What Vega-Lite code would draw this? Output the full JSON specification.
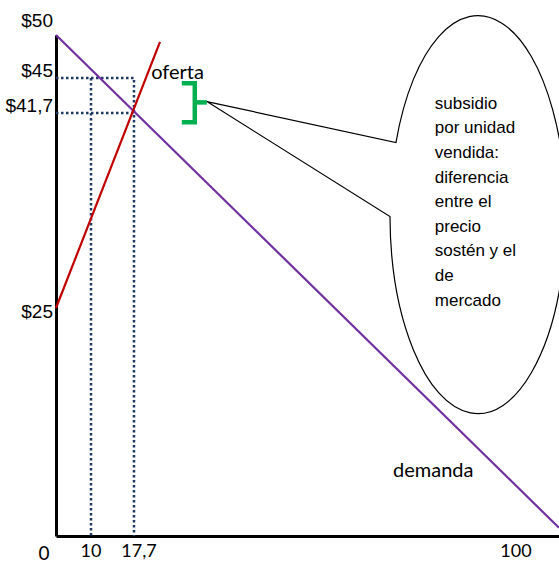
{
  "$schema": "https://vega.github.io/schema/vega-lite/v6.json",
  "width": 503,
  "height": 501,
  "autosize": {"type": "none"},
  "padding": {"left": 56, "top": 35, "right": 0, "bottom": 28},
  "background": "white",
  "config": {"view": {"stroke": null}},
  "datasets": {
    "demand": [{"q": 0, "p": 50}, {"q": 109, "p": 0.9}],
    "supply": [{"q": 0, "p": 25}, {"q": 23.3, "p": 49.2}],
    "guides": [
      {"seg": "a", "ord": 1, "q": 0, "p": 45},
      {"seg": "a", "ord": 2, "q": 17.7, "p": 45},
      {"seg": "a", "ord": 3, "q": 17.7, "p": 0},
      {"seg": "b", "ord": 1, "q": 10, "p": 45},
      {"seg": "b", "ord": 2, "q": 10, "p": 0},
      {"seg": "c", "ord": 1, "q": 0, "p": 41.7},
      {"seg": "c", "ord": 2, "q": 17.7, "p": 41.7}
    ],
    "bracket": [
      {"seg": "a", "ord": 1, "q": 28.0, "p": 44.5},
      {"seg": "a", "ord": 2, "q": 30.8, "p": 44.5},
      {"seg": "a", "ord": 3, "q": 30.8, "p": 40.9},
      {"seg": "a", "ord": 4, "q": 28.0, "p": 40.9},
      {"seg": "b", "ord": 1, "q": 30.8, "p": 42.7},
      {"seg": "b", "ord": 2, "q": 33.4, "p": 42.7}
    ],
    "bubble": [{"q": 91.8, "p": 33.0}],
    "bubbletext": [{"q": 82.5, "p": 42.1, "text": "subsidio\npor unidad\nvendida:\ndiferencia\nentre el\nprecio\nsostén  y el\nde\nmercado"}],
    "ylabels": [
      {"q": 0, "p": 50, "label": "$50", "grp": "top"},
      {"q": 0, "p": 45, "label": "$45", "grp": "mid"},
      {"q": 0, "p": 41.7, "label": "$41,7", "grp": "mid"},
      {"q": 0, "p": 25, "label": "$25", "grp": "low"}
    ],
    "xlabels": [
      {"q": 0, "p": 0, "label": "0", "grp": "zero"},
      {"q": 10, "p": 0, "label": "10", "grp": "std"},
      {"q": 17.7, "p": 0, "label": "17,7", "grp": "shift"},
      {"q": 100, "p": 0, "label": "100", "grp": "std"}
    ],
    "curvelabels": [
      {"q": 21.4, "p": 45, "label": "oferta"},
      {"q": 73.5, "p": 6.6, "label": "demanda"}
    ]
  },
  "encoding": {
    "x": {
      "field": "q", "type": "quantitative",
      "scale": {"domain": [0, 10, 17.7, 100, 109], "range": [0, 35, 78, 460, 503], "nice": false, "zero": false},
      "axis": {"domain": true, "domainColor": "black", "domainWidth": 3, "ticks": false, "labels": false, "grid": false, "title": null}
    },
    "y": {
      "field": "p", "type": "quantitative",
      "scale": {"domain": [0, 25, 41.7, 45, 50], "range": [501, 273, 78, 43, 0], "nice": false, "zero": false},
      "axis": {"domain": true, "domainColor": "black", "domainWidth": 3, "ticks": false, "labels": false, "grid": false, "title": null}
    }
  },
  "layer": [
    {
      "data": {"name": "guides"},
      "mark": {"type": "line", "color": "#1F3864", "strokeWidth": 2.5, "strokeDash": [2.5, 2.5]},
      "encoding": {"detail": {"field": "seg"}, "order": {"field": "ord"}}
    },
    {
      "data": {"name": "demand"},
      "mark": {"type": "line", "color": "#7030A0", "strokeWidth": 2.2},
      "encoding": {}
    },
    {
      "data": {"name": "supply"},
      "mark": {"type": "line", "color": "#C00000", "strokeWidth": 2.2},
      "encoding": {}
    },
    {
      "data": {"name": "bracket"},
      "mark": {"type": "line", "color": "#00B050", "strokeWidth": 4.5, "strokeJoin": "miter"},
      "encoding": {"detail": {"field": "seg"}, "order": {"field": "ord"}}
    },
    {
      "data": {"name": "bubble"},
      "mark": {
        "type": "point",
        "shape": "M -0.412 -0.362 A 0.442 1 0 1 1 -0.442 0.01 L -1.362 -0.568 Z",
        "size": 158404,
        "filled": false,
        "stroke": "black",
        "strokeWidth": 1.2,
        "opacity": 1
      }
    },
    {
      "data": {"name": "bubbletext"},
      "mark": {"type": "text", "align": "left", "baseline": "alphabetic", "font": "Liberation Sans", "fontSize": 17, "lineBreak": "\n", "lineHeight": 24.6, "color": "black"},
      "encoding": {"text": {"field": "text"}}
    },
    {
      "data": {"name": "ylabels"},
      "transform": [{"filter": "datum.grp === 'top'"}],
      "mark": {"type": "text", "align": "right", "baseline": "alphabetic", "dx": -3, "dy": -8, "font": "Liberation Sans", "fontSize": 19, "color": "black"},
      "encoding": {"text": {"field": "label"}}
    },
    {
      "data": {"name": "ylabels"},
      "transform": [{"filter": "datum.grp === 'mid'"}],
      "mark": {"type": "text", "align": "right", "baseline": "alphabetic", "dx": -3, "dy": -1, "font": "Liberation Sans", "fontSize": 19, "color": "black"},
      "encoding": {"text": {"field": "label"}}
    },
    {
      "data": {"name": "ylabels"},
      "transform": [{"filter": "datum.grp === 'low'"}],
      "mark": {"type": "text", "align": "right", "baseline": "alphabetic", "dx": -3, "dy": 10, "font": "Liberation Sans", "fontSize": 19, "color": "black"},
      "encoding": {"text": {"field": "label"}}
    },
    {
      "data": {"name": "xlabels"},
      "transform": [{"filter": "datum.grp === 'std'"}],
      "mark": {"type": "text", "align": "center", "baseline": "alphabetic", "dy": 21, "font": "Lato", "fontSize": 18, "color": "black"},
      "encoding": {"text": {"field": "label"}}
    },
    {
      "data": {"name": "xlabels"},
      "transform": [{"filter": "datum.grp === 'shift'"}],
      "mark": {"type": "text", "align": "center", "baseline": "alphabetic", "dx": 5, "dy": 21, "font": "Lato", "fontSize": 18, "color": "black"},
      "encoding": {"text": {"field": "label"}}
    },
    {
      "data": {"name": "xlabels"},
      "transform": [{"filter": "datum.grp === 'zero'"}],
      "mark": {"type": "text", "align": "center", "baseline": "alphabetic", "dx": -12, "dy": 24, "font": "Lato", "fontSize": 19, "color": "black"},
      "encoding": {"text": {"field": "label"}}
    },
    {
      "data": {"name": "curvelabels"},
      "mark": {"type": "text", "align": "left", "baseline": "alphabetic", "dy": 1, "font": "Lato", "fontSize": 20, "color": "black"},
      "encoding": {"text": {"field": "label"}}
    }
  ]
}
